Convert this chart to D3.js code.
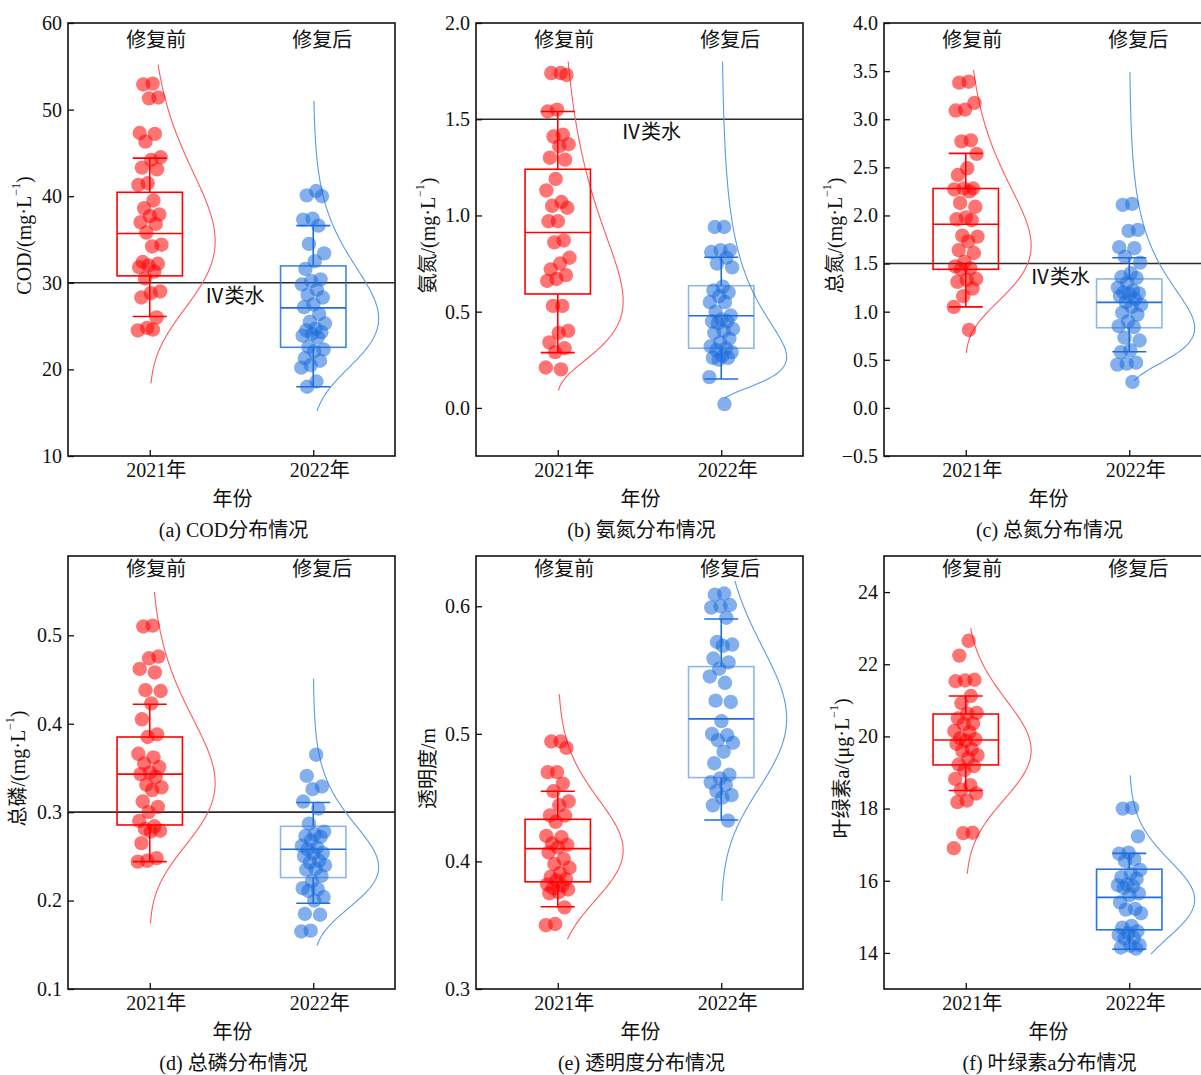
<!DOCTYPE html>
<html><head><meta charset="utf-8">
<script src="https://cdn.jsdelivr.net/npm/d3@7"></script>
<style>
body{margin:0;background:#fff}
svg text{font-family:"Liberation Serif","Times New Roman","Noto Sans CJK SC",serif;fill:#111}
</style>
</head><body>
<svg id="chart" width="1201" height="1075"></svg>
<script>
// ---------------- DATA ----------------
const years = ["2021年", "2022年"];
const groupLabels = ["修复前", "修复后"];
const thresholdLabel = "Ⅳ类水";

// (a) COD
const codBefore = [53.0,52.9,51.4,51.3,47.3,47.2,46.3,44.5,44.2,43.3,43.1,41.5,41.3,39.5,38.6,37.9,37.7,37.0,36.8,35.8,34.4,34.2,32.4,32.2,32.0,31.8,31.3,30.5,29.0,28.8,28.3,26.0,24.8,24.5,24.6];
const codAfter = [40.6,40.1,40.0,37.4,37.3,36.6,34.5,33.4,32.5,31.6,30.4,30.2,29.8,29.2,28.6,28.3,27.5,27.2,26.4,25.5,25.3,24.7,24.5,24.3,24.1,23.9,23.7,22.6,22.3,22.1,21.3,21.0,20.5,20.2,18.6,18.0];
const codBoxBefore = [26.1,30.8,35.7,40.45,44.4];   // whisker low, Q1, median, Q3, whisker high
const codBoxAfter  = [18.0,22.55,27.1,31.95,36.6];
const codCurveBefore = [18.4,55.2];
const codCurveAfter  = [15.2,51.0];
const codTicks = [10,20,30,40,50,60];

// (b) NH3-N
const nhBefore = [1.74,1.74,1.73,1.55,1.54,1.42,1.41,1.37,1.36,1.30,1.29,1.19,1.13,1.07,1.05,1.04,0.97,0.97,0.87,0.86,0.78,0.75,0.72,0.69,0.67,0.66,0.53,0.53,0.40,0.39,0.34,0.31,0.29,0.21,0.20];
const nhAfter = [0.94,0.94,0.82,0.82,0.81,0.78,0.75,0.73,0.63,0.61,0.60,0.58,0.55,0.55,0.50,0.48,0.46,0.45,0.45,0.44,0.41,0.40,0.39,0.36,0.34,0.32,0.31,0.30,0.29,0.27,0.26,0.26,0.25,0.16,0.02];
const nhBoxBefore = [0.287,0.592,0.911,1.240,1.540];
const nhBoxAfter  = [0.150,0.310,0.479,0.635,0.783];
const nhCurveBefore = [0.09,1.80];
const nhCurveAfter  = [0.05,1.80];
const nhTicks = [0,0.5,1.0,1.5,2.0];

// (c) TN
const tnBefore = [3.39,3.38,3.17,3.10,3.09,2.78,2.77,2.64,2.49,2.42,2.28,2.28,2.27,2.25,2.13,2.09,1.98,1.96,1.95,1.79,1.78,1.73,1.64,1.61,1.52,1.47,1.45,1.44,1.34,1.33,1.31,1.24,1.16,1.05,0.81];
const tnAfter = [2.12,2.11,1.85,1.84,1.67,1.66,1.57,1.51,1.40,1.36,1.35,1.30,1.25,1.22,1.20,1.19,1.18,1.16,1.13,1.10,1.07,1.05,0.99,0.97,0.90,0.85,0.84,0.73,0.70,0.60,0.58,0.47,0.46,0.45,0.27];
const tnBoxBefore = [1.05,1.44,1.908,2.28,2.645];
const tnBoxAfter  = [0.584,0.833,1.097,1.34,1.56];
const tnCurveBefore = [0.57,3.51];
const tnCurveAfter  = [0.28,3.49];
const tnTicks = [-0.5,0,0.5,1.0,1.5,2.0,2.5,3.0,3.5,4.0];

// (d) TP
const tpBefore = [0.511,0.510,0.476,0.474,0.462,0.458,0.438,0.437,0.423,0.405,0.388,0.385,0.366,0.362,0.355,0.351,0.345,0.343,0.340,0.331,0.328,0.325,0.312,0.306,0.300,0.290,0.284,0.281,0.279,0.278,0.265,0.248,0.245,0.244];
const tpAfter = [0.365,0.341,0.329,0.326,0.312,0.304,0.287,0.278,0.275,0.273,0.272,0.268,0.262,0.260,0.258,0.254,0.253,0.250,0.245,0.243,0.240,0.236,0.235,0.228,0.222,0.214,0.213,0.211,0.204,0.200,0.185,0.184,0.166,0.165];
const tpBoxBefore = [0.244,0.2855,0.343,0.385,0.422];
const tpBoxAfter  = [0.197,0.226,0.258,0.284,0.311];
const tpCurveBefore = [0.174,0.549];
const tpCurveAfter  = [0.149,0.451];
const tpTicks = [0.1,0.2,0.3,0.4,0.5];

// (e) transparency
const sdBefore = [0.494,0.494,0.489,0.470,0.470,0.461,0.455,0.447,0.444,0.436,0.436,0.431,0.420,0.419,0.414,0.413,0.411,0.407,0.402,0.398,0.395,0.391,0.388,0.386,0.385,0.382,0.381,0.379,0.378,0.376,0.375,0.364,0.351,0.350];
const sdAfter = [0.610,0.609,0.601,0.600,0.599,0.591,0.572,0.570,0.569,0.559,0.556,0.551,0.545,0.540,0.526,0.525,0.510,0.500,0.499,0.495,0.493,0.486,0.477,0.468,0.465,0.462,0.460,0.455,0.452,0.450,0.444,0.432];
const sdBoxBefore = [0.3645,0.384,0.410,0.433,0.455];
const sdBoxAfter  = [0.4325,0.4657,0.5117,0.5527,0.590];
const sdCurveBefore = [0.339,0.531];
const sdCurveAfter  = [0.369,0.620];
const sdTicks = [0.3,0.4,0.5,0.6];

// (f) chlorophyll a
const chlBefore = [22.65,22.24,21.57,21.55,21.53,21.12,20.92,20.65,20.63,20.50,20.36,20.34,20.15,20.12,19.95,19.92,19.88,19.80,19.65,19.60,19.48,19.40,19.22,19.18,19.07,18.82,18.65,18.52,18.42,18.22,18.18,17.33,17.32,16.90];
const chlAfter = [18.02,18.00,17.23,16.78,16.75,16.60,16.55,16.30,16.20,16.10,16.05,15.90,15.88,15.85,15.80,15.65,15.60,15.40,15.22,15.20,15.10,14.75,14.70,14.60,14.55,14.50,14.42,14.40,14.22,14.20,14.15,14.12];
const chlBoxBefore = [18.50,19.21,19.90,20.62,21.12];
const chlBoxAfter  = [14.10,14.64,15.54,16.32,16.76];
const chlCurveBefore = [16.19,23.0];
const chlCurveAfter  = [13.97,18.92];
const chlTicks = [14,16,18,20,22,24];

// ---------------- PANELS ----------------
const panels = [
  {caption:"(a) COD分布情况", title:["COD/(mg·L","−1",")"], domain:[10,60], ticks:codTicks, fmt:d3.format("d"),
   before:codBefore, after:codAfter, boxB:codBoxBefore, boxA:codBoxAfter, curveB:codCurveBefore, curveA:codCurveAfter,
   threshold:30, thrLabelX:1.518, left:68, top:23, titleOff:44, blueBoxOp:0.85, row:0},
  {caption:"(b) 氨氮分布情况", title:["氨氮/(mg·L","−1",")"], domain:[-0.25,2.0], ticks:nhTicks, fmt:d3.format(".1f"),
   before:nhBefore, after:nhAfter, boxB:nhBoxBefore, boxA:nhBoxAfter, curveB:nhCurveBefore, curveA:nhCurveAfter,
   threshold:1.5, thrLabelX:1.57, left:476, top:23, titleOff:48, blueBoxOp:0.5, row:0},
  {caption:"(c) 总氮分布情况", title:["总氮/(mg·L","−1",")"], domain:[-0.5,4.0], ticks:tnTicks, fmt:d3.format(".1f"),
   before:tnBefore, after:tnAfter, boxB:tnBoxBefore, boxA:tnBoxAfter, curveB:tnCurveBefore, curveA:tnCurveAfter,
   threshold:1.5, thrLabelX:1.576, left:884, top:23, titleOff:49, blueBoxOp:0.5, row:0},
  {caption:"(d) 总磷分布情况", title:["总磷/(mg·L","−1",")"], domain:[0.1,0.5897], ticks:tpTicks, fmt:d3.format(".1f"),
   before:tpBefore, after:tpAfter, boxB:tpBoxBefore, boxA:tpBoxAfter, curveB:tpCurveBefore, curveA:tpCurveAfter,
   threshold:0.3, thrLabelX:null, left:68, top:556, titleOff:50, blueBoxOp:0.5, row:1},
  {caption:"(e) 透明度分布情况", title:["透明度/m"], domain:[0.3,0.6394], ticks:sdTicks, fmt:d3.format(".1f"),
   before:sdBefore, after:sdAfter, boxB:sdBoxBefore, boxA:sdBoxAfter, curveB:sdCurveBefore, curveA:sdCurveAfter,
   threshold:null, thrLabelX:null, left:476, top:556, titleOff:48, blueBoxOp:0.5, row:1},
  {caption:"(f) 叶绿素a分布情况", title:["叶绿素a/(μg·L","−1",")"], domain:[13,25], ticks:chlTicks, fmt:d3.format("d"),
   before:chlBefore, after:chlAfter, boxB:chlBoxBefore, boxA:chlBoxAfter, curveB:chlCurveBefore, curveA:chlCurveAfter,
   threshold:null, thrLabelX:null, left:884, top:556, titleOff:42, blueBoxOp:0.95, row:1}
];

// ---------------- DRAW ----------------
const W = 327, H = 433;
const RED = "#ff0000", BLUE = "#1e6edc";
const FS = 20;
const svg = d3.select("#chart");
svg.append("rect").attr("width",1201).attr("height",1075).attr("fill","#fff");

const phi = 0.6180339887;
const jitter = i => (((i + 1) * phi) % 1 - 0.5) * 0.15;

panels.forEach(p => {
  const g = svg.append("g").attr("transform", `translate(${p.left},${p.top})`);
  const x = d3.scaleLinear().domain([0.5, 2.5]).range([0, W]);
  const y = d3.scaleLinear().domain(p.domain).range([H, 0]);

  // threshold line
  if (p.threshold != null) {
    g.append("line").attr("x1", 0).attr("x2", W)
      .attr("y1", y(p.threshold)).attr("y2", y(p.threshold))
      .attr("stroke", "#2a2a2a").attr("stroke-width", 1.6);
    if (p.thrLabelX != null) {
      g.append("text").attr("x", x(p.thrLabelX)).attr("y", y(p.threshold) + 13)
        .attr("text-anchor", "middle").attr("dominant-baseline", "central")
        .attr("font-size", FS).text(thresholdLabel);
    }
  }

  const groups = [
    {vals: p.before, box: p.boxB, curve: p.curveB, color: RED, cat: 1, boxOp: 1, curveColor:"#ff5a5a"},
    {vals: p.after,  box: p.boxA, curve: p.curveA, color: BLUE, cat: 2, boxOp: p.blueBoxOp, curveColor:"#5b9be6"}
  ];

  groups.forEach(gr => {
    const cx = x(gr.cat);
    // lognormal fit curve (half violin)
    const logs = gr.vals.map(v => Math.log(v));
    const mu = d3.mean(logs), s = d3.deviation(logs);
    const pdf = v => Math.exp(-((Math.log(v) - mu) ** 2) / (2 * s * s)) / (v * s * Math.sqrt(2 * Math.PI));
    const [lo, hi] = gr.curve;
    const ys = d3.range(0, 201).map(i => lo + (hi - lo) * i / 200);
    const mx = d3.max(ys, pdf);
    const wScale = d3.scaleLinear().domain([0, mx]).range([cx, x(gr.cat + 0.4)]);
    g.append("path").datum(ys)
      .attr("d", d3.line().x(v => wScale(pdf(v))).y(v => y(v)))
      .attr("fill", "none").attr("stroke", gr.curveColor).attr("stroke-width", 1.1);

    // box
    const [wl, q1, med, q3, wh] = gr.box;
    const bx0 = x(gr.cat - 0.2), bx1 = x(gr.cat + 0.2);
    g.append("rect").attr("x", bx0).attr("y", y(q3)).attr("width", bx1 - bx0).attr("height", y(q1) - y(q3))
      .attr("fill", "none").attr("stroke", gr.color).attr("stroke-width", 1.6).attr("stroke-opacity", gr.boxOp);
    g.append("line").attr("x1", bx0).attr("x2", bx1).attr("y1", y(med)).attr("y2", y(med))
      .attr("stroke", gr.color).attr("stroke-width", 1.6);
    // whiskers
    const cap0 = x(gr.cat - 0.104), cap1 = x(gr.cat + 0.104);
    [[q3, wh], [q1, wl]].forEach(([a, b]) => {
      g.append("line").attr("x1", cx).attr("x2", cx).attr("y1", y(a)).attr("y2", y(b))
        .attr("stroke", gr.color).attr("stroke-width", 1.6);
      g.append("line").attr("x1", cap0).attr("x2", cap1).attr("y1", y(b)).attr("y2", y(b))
        .attr("stroke", gr.color).attr("stroke-width", 1.6);
    });

    // points
    g.append("g").selectAll("circle").data(gr.vals).join("circle")
      .attr("cx", (v, i) => x(gr.cat + jitter(i)))
      .attr("cy", v => y(v)).attr("r", 7.2)
      .attr("fill", gr.color).attr("fill-opacity", 0.55);
  });

  // group labels
  const glY = p.row === 0 ? 17 : 13;
  g.append("text").attr("x", x(1.04)).attr("y", glY).attr("text-anchor", "middle")
    .attr("dominant-baseline", "central").attr("font-size", FS).text(groupLabels[0]);
  g.append("text").attr("x", x(2.055)).attr("y", glY).attr("text-anchor", "middle")
    .attr("dominant-baseline", "central").attr("font-size", FS).text(groupLabels[1]);

  // axes
  const yAxis = d3.axisLeft(y).tickValues(p.ticks).tickFormat(p.fmt).tickSize(-6).tickPadding(6);
  const ya = g.append("g").call(yAxis);
  ya.select(".domain").remove();
  ya.selectAll("text").attr("font-size", FS).attr("fill", "#111");
  ya.selectAll("line").attr("stroke", "#111").attr("stroke-width", 1.3);

  const xAxis = d3.axisBottom(x).tickValues([1, 2]).tickFormat(d => years[d - 1]).tickSize(-6).tickPadding(7);
  const xa = g.append("g").attr("transform", `translate(0,${H})`).call(xAxis);
  xa.select(".domain").remove();
  xa.selectAll("text").attr("font-size", FS).attr("fill", "#111").attr("dx", 6);
  xa.selectAll("line").attr("stroke", "#111").attr("stroke-width", 1.3);
  ya.attr("font-family", null); xa.attr("font-family", null);

  // frame
  g.append("rect").attr("x", 0).attr("y", 0).attr("width", W).attr("height", H)
    .attr("fill", "none").attr("stroke", "#111").attr("stroke-width", 1.6);

  // y title
  const t = g.append("text")
    .attr("transform", `translate(${-p.titleOff},${H / 2 - 4}) rotate(-90)`)
    .attr("text-anchor", "middle").attr("dominant-baseline", "central").attr("font-size", FS);
  t.append("tspan").text(p.title[0]);
  if (p.title.length > 1) {
    t.append("tspan").attr("font-size", 12).attr("dy", -8).text(p.title[1]);
    t.append("tspan").attr("dy", 8).text(p.title[2]);
  }

  // x title and caption
  g.append("text").attr("x", W / 2 + 1).attr("y", H + 43).attr("text-anchor", "middle")
    .attr("dominant-baseline", "central").attr("font-size", FS).text("年份");
  g.append("text").attr("x", W / 2 + 2).attr("y", H + 74).attr("text-anchor", "middle")
    .attr("dominant-baseline", "central").attr("font-size", FS).text(p.caption);
});
</script>
</body></html>
